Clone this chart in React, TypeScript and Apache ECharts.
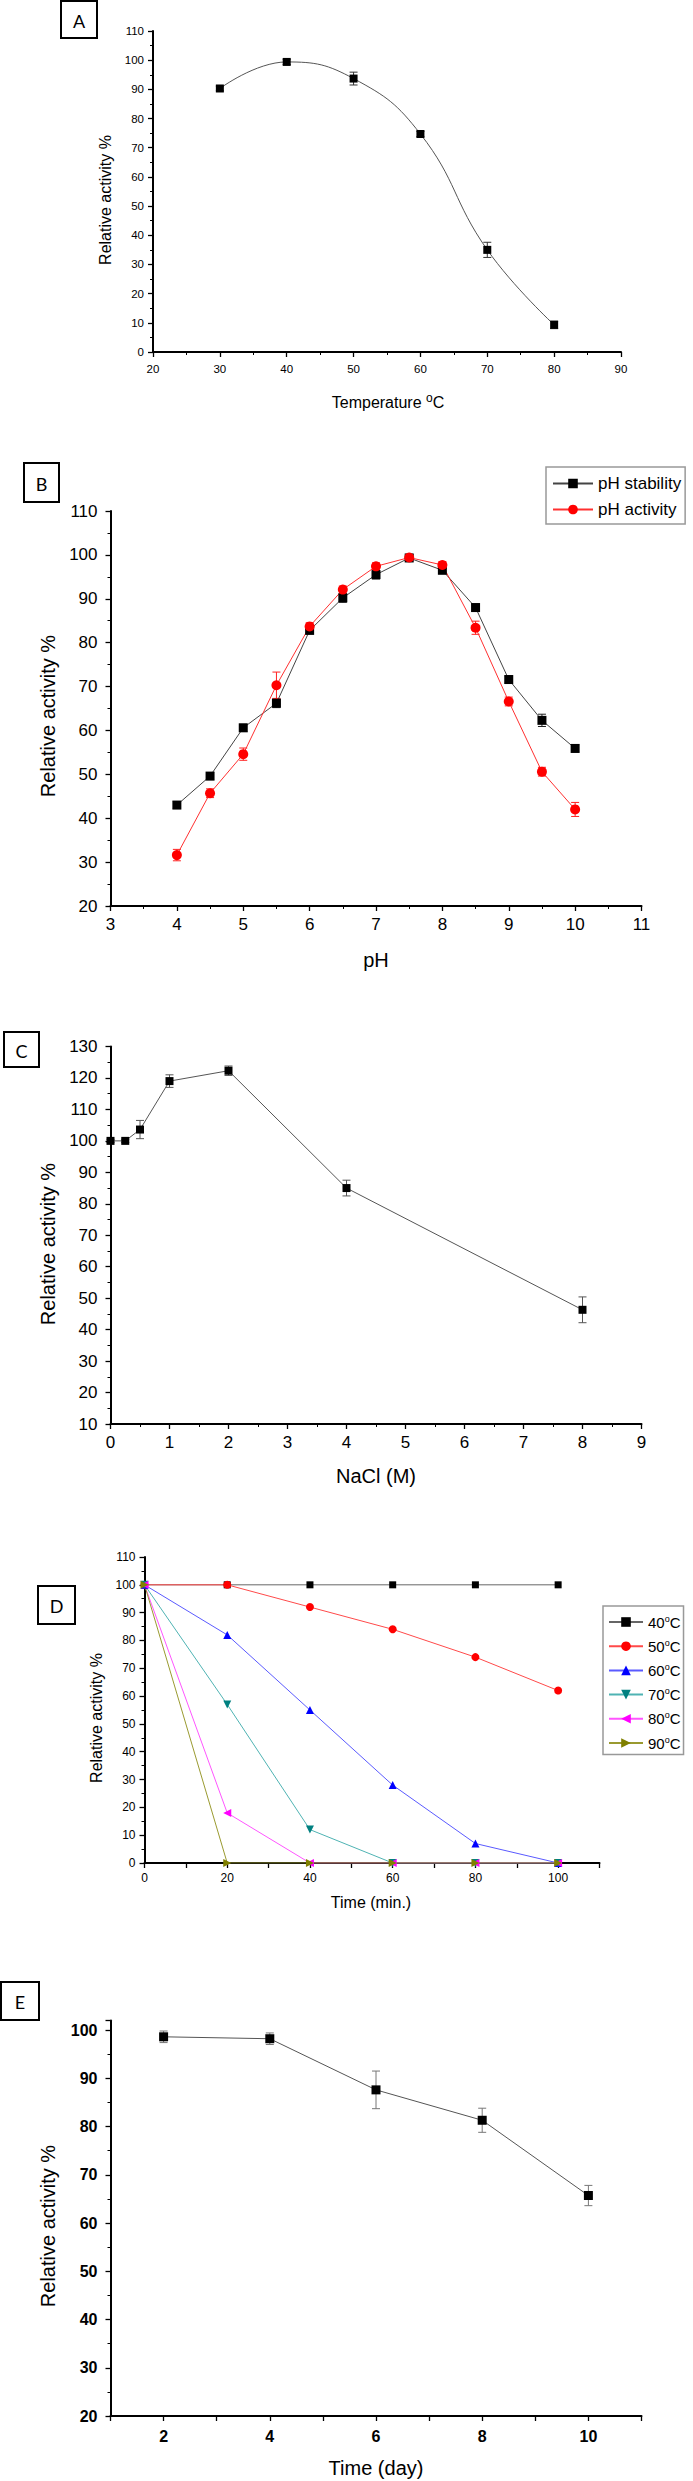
import React, { useEffect, useRef } from "react";
import * as echarts from "echarts";

const FONT = '"Liberation Sans", Arial, Helvetica, sans-serif';
const LETTER_FONT = 'Lato, "Open Sans", sans-serif';

// ---------- Panel A: effect of temperature ----------
const tempC = [30, 40, 50, 60, 70, 80];
const tempActivity = [90.3, 99.4, 93.7, 74.7, 35.0, 9.3];
const tempErr = [0.8, 0.9, 2.2, 0.9, 2.6, 1.3];
const axisAX = [20, 90, 10];
const axisAY = [0, 110, 10];

// ---------- Panel B: effect of pH ----------
const pH = [4, 4.5, 5, 5.5, 6, 6.5, 7, 7.5, 8, 8.5, 9, 9.5, 10];
const pHStability = [43.0, 49.6, 60.6, 66.2, 82.8, 90.2, 95.5, 99.3, 96.5, 88.0, 71.6, 62.3, 55.9];
const pHStabilityErr = [0.8, 0.8, 0.8, 1.0, 0.8, 1.0, 1.0, 0.8, 0.8, 0.8, 0.8, 1.4, 0.8];
const pHActivity = [31.6, 45.7, 54.6, 70.3, 83.7, 92.1, 97.4, 99.4, 97.7, 83.4, 66.6, 50.6, 42.0];
const pHActivityErr = [1.3, 1.0, 1.4, 3.0, 0.8, 0.8, 0.8, 0.6, 0.8, 1.5, 1.0, 1.0, 1.6];
const pHSeriesNames = ["pH stability", "pH activity"];
const axisBX = [3, 11, 1];
const axisBY = [20, 110, 10];

// ---------- Panel C: effect of NaCl ----------
const nacl = [0, 0.25, 0.5, 1, 2, 4, 8];
const naclActivity = [100, 100, 103.6, 119.0, 122.3, 85.0, 46.3];
const naclErr = [0.5, 0.5, 2.9, 2.0, 1.5, 2.5, 4.1];
const axisCX = [0, 9, 1];
const axisCY = [10, 130, 10];

// ---------- Panel D: thermal stability ----------
const timeMin = [0, 20, 40, 60, 80, 100];
const stabTemps = ["40", "50", "60", "70", "80", "90"];
const stab40 = [100, 100, 100, 100, 100, 100];
const stab50 = [100, 100, 92, 84, 74, 62];
const stab60 = [100, 82, 55, 28, 7, 0];
const stab70 = [100, 57, 12, 0, 0, 0];
const stab80 = [100, 18, 0, 0, 0, 0];
const stab90 = [100, 0, 0, 0, 0, 0];
const stabValues = [stab40, stab50, stab60, stab70, stab80, stab90];
const axisDX = [0, 110, 10];
const axisDY = [0, 110, 10];

// ---------- Panel E: storage stability ----------
const days = [2, 4, 6, 8, 10];
const storage = [98.6, 98.2, 87.6, 81.3, 65.7];
const storageErr = [1.2, 1.2, 3.9, 2.5, 2.1];
const axisEX = [1, 11, 1];
const axisEY = [20, 102, 10];

const panelLetters = ["A", "B", "C", "D", "E"];
const yTitle = "Relative activity %";
const xTitles = ["Temperature ", "pH", "NaCl (M)", "Time (min.)", "Time (day)"];

// styles (kept apart from data)
const stabMarker = ["#000000", "#ff0000", "#0000ff", "#008080", "#ff00ff", "#808000"];
const stabLine = ["#666666", "#ff4a4a", "#5a5aff", "#4fb3b3", "#ff55ff", "#9a9a30"];
const stabSymbol = [
  "rect",
  "circle",
  "path://M5,0L10,9L0,9Z",
  "path://M0,0L10,0L5,9Z",
  "path://M10,0L10,10L1,5Z",
  "path://M0,0L0,10L9,5Z",
];

const grids = [
  { left: 153, top: 31, width: 468, height: 321 },
  { left: 110.5, top: 511, width: 531, height: 395 },
  { left: 110.5, top: 1046.5, width: 531, height: 377.5 },
  { left: 144.5, top: 1557, width: 455, height: 306 },
  { left: 110.5, top: 2020.4, width: 531, height: 395.6 },
];

function axis(
  gi: number,
  range: number[],
  fontSize: number,
  margin: number,
  extra: any = {}
) {
  return {
    type: "value",
    gridIndex: gi,
    min: range[0],
    max: range[1],
    interval: range[2],
    axisLine: { show: true, onZero: false, lineStyle: { color: "#000", width: 2 } },
    axisTick: { show: true, length: 5, lineStyle: { color: "#000", width: 1.3 } },
    splitLine: { show: false },
    axisLabel: {
      color: "#000",
      fontSize,
      fontFamily: FONT,
      fontWeight: extra.bold ? "bold" : "normal",
      margin,
      formatter: extra.formatter,
    },
    minorTick: extra.minor
      ? { show: true, splitNumber: 2, length: 3, lineStyle: { color: "#000", width: 1 } }
      : { show: false },
  };
}

function lineSeries(name: string, gi: number, xs: number[], ys: number[], o: any) {
  return {
    name,
    type: "line",
    xAxisIndex: gi,
    yAxisIndex: gi,
    z: 3,
    data: xs.map((x, i) => [x, ys[i]]),
    symbol: o.symbol,
    symbolSize: o.size,
    smooth: o.smooth || false,
    itemStyle: { color: o.color },
    lineStyle: { color: o.lineColor, width: 1 },
    emphasis: { disabled: true },
  };
}

function errorBars(gi: number, xs: number[], ys: number[], errs: number[], color: string, cap = 4) {
  return {
    type: "custom",
    xAxisIndex: gi,
    yAxisIndex: gi,
    z: 2,
    silent: true,
    data: xs.map((x, i) => [x, ys[i] - errs[i], ys[i] + errs[i]]),
    encode: { x: 0, y: [1, 2] },
    renderItem: (params: any, api: any) => {
      const x = api.value(0);
      const lo = api.coord([x, api.value(1)]);
      const hi = api.coord([x, api.value(2)]);
      const style = { stroke: color, lineWidth: 1 };
      return {
        type: "group",
        children: [
          { type: "line", shape: { x1: lo[0], y1: lo[1], x2: hi[0], y2: hi[1] }, style },
          { type: "line", shape: { x1: lo[0] - cap, y1: lo[1], x2: lo[0] + cap, y2: lo[1] }, style },
          { type: "line", shape: { x1: hi[0] - cap, y1: hi[1], x2: hi[0] + cap, y2: hi[1] }, style },
        ],
      };
    },
  };
}

function textEl(text: string, x: number, y: number, size: number, rotate = false, font = FONT) {
  return {
    type: "text",
    x,
    y,
    rotation: rotate ? Math.PI / 2 : 0,
    z: 10,
    style: {
      text,
      font: `${size}px ${font}`,
      fill: "#000",
      align: "center",
      verticalAlign: "middle",
      textAlign: "center",
      textVerticalAlign: "middle",
    },
  };
}

function letterBox(letter: string, x: number, y: number, w: number, h: number) {
  return [
    {
      type: "rect",
      shape: { x, y, width: w, height: h },
      style: { fill: "#fff", stroke: "#000", lineWidth: 2 },
      z: 10,
    },
    textEl(letter, x + w / 2, y + h / 2 + 1, 18, false, LETTER_FONT),
  ];
}

export default function App() {
  const ref = useRef<HTMLDivElement>(null);

  useEffect(() => {
    if (!ref.current) return;
    const chart = echarts.init(ref.current, null, { renderer: "svg" });

    const series: any[] = [];
    // A
    series.push(errorBars(0, tempC, tempActivity, tempErr, "#333"));
    series.push(
      lineSeries("Temperature", 0, tempC, tempActivity, {
        symbol: "rect",
        size: 8,
        color: "#000",
        lineColor: "#555",
        smooth: 0.45,
      })
    );
    // B
    series.push(errorBars(1, pH, pHStability, pHStabilityErr, "#222"));
    series.push(errorBars(1, pH, pHActivity, pHActivityErr, "#ff2020"));
    series.push(
      lineSeries(pHSeriesNames[0], 1, pH, pHStability, {
        symbol: "rect",
        size: 9,
        color: "#000",
        lineColor: "#444",
      })
    );
    series.push(
      lineSeries(pHSeriesNames[1], 1, pH, pHActivity, {
        symbol: "circle",
        size: 10,
        color: "#ff0000",
        lineColor: "#ff3030",
      })
    );
    // C
    series.push(errorBars(2, nacl, naclActivity, naclErr, "#555"));
    series.push(
      lineSeries("NaCl", 2, nacl, naclActivity, {
        symbol: "rect",
        size: 8,
        color: "#000",
        lineColor: "#555",
      })
    );
    // D
    stabTemps.forEach((t, i) => {
      series.push(
        lineSeries(`${t}°C`, 3, timeMin, stabValues[i], {
          symbol: stabSymbol[i],
          size: i === 0 ? 7 : 8,
          color: stabMarker[i],
          lineColor: stabLine[i],
        })
      );
    });
    // E
    series.push(errorBars(4, days, storage, storageErr, "#777"));
    series.push(
      lineSeries("Storage", 4, days, storage, {
        symbol: "rect",
        size: 9,
        color: "#000",
        lineColor: "#555",
      })
    );

    const graphic: any[] = [
      ...letterBox(panelLetters[0], 61, 1, 36, 37),
      ...letterBox(panelLetters[1], 24, 463, 35, 39),
      ...letterBox(panelLetters[2], 4, 1032, 35, 35),
      ...letterBox(panelLetters[3], 38, 1586, 37, 38),
      ...letterBox(panelLetters[4], 1, 1982, 38, 38),
      textEl(yTitle, 105, 200, 16, true),
      textEl(yTitle, 48, 716, 20, true),
      textEl(yTitle, 48, 1244, 20, true),
      textEl(yTitle, 96, 1718, 16, true),
      textEl(yTitle, 48, 2226, 20, true),
      {
        type: "text",
        x: 388,
        y: 402,
        z: 10,
        style: {
          text: `{a|${xTitles[0]}}{s|o}{a|C}`,
          align: "center",
          verticalAlign: "middle",
          textAlign: "center",
          textVerticalAlign: "middle",
          rich: {
            a: { fontSize: 16, fontFamily: FONT, fill: "#000", color: "#000", lineHeight: 20 },
            s: {
              fontSize: 12,
              fontFamily: FONT,
              fill: "#000",
              color: "#000",
              lineHeight: 8,
              verticalAlign: "top",
            },
          },
        },
      },
      textEl(xTitles[1], 376, 960, 20),
      textEl(xTitles[2], 376, 1476, 20),
      textEl(xTitles[3], 371, 1902, 16),
      textEl(xTitles[4], 376, 2468, 20),
    ];

    const option: any = {
      animation: false,
      backgroundColor: "#ffffff",
      grid: grids.map((g) => ({ ...g, containLabel: false, outerBoundsMode: "none" })),
      xAxis: [
        axis(0, axisAX, 11.5, 11, { minor: true }),
        axis(1, axisBX, 17, 10, { minor: true }),
        axis(2, axisCX, 17, 10, { minor: true }),
        axis(3, axisDX, 12, 9, {
          formatter: (v: number) => (v % 20 === 0 && v <= 100 ? String(v) : ""),
        }),
        axis(4, axisEX, 16, 12, {
          bold: true,
          formatter: (v: number) => (v % 2 === 0 ? String(v) : ""),
        }),
      ],
      yAxis: [
        axis(0, axisAY, 11.5, 9, { minor: true }),
        axis(1, axisBY, 17, 13, { minor: true }),
        axis(2, axisCY, 17, 13, { minor: true }),
        axis(3, axisDY, 12, 9, { minor: true }),
        axis(4, axisEY, 16, 13, {
          bold: true,
          minor: true,
          formatter: (v: number) => (v <= 100 ? String(v) : ""),
        }),
      ],
      legend: [
        {
          data: pHSeriesNames,
          orient: "vertical",
          left: 546,
          top: 467,
          padding: [8, 4, 6, 6],
          itemWidth: 40,
          itemHeight: 12,
          itemGap: 9,
          borderColor: "#999",
          borderWidth: 1.5,
          backgroundColor: "#fff",
          selectedMode: false,
          textStyle: { fontSize: 17, fontFamily: FONT, color: "#000" },
        },
        {
          data: stabTemps.map((t) => `${t}°C`),
          orient: "vertical",
          left: 603,
          top: 1606,
          padding: [8, 3, 4, 5],
          itemWidth: 34,
          itemHeight: 12,
          itemGap: 8.7,
          borderColor: "#999",
          borderWidth: 1.5,
          backgroundColor: "#fff",
          selectedMode: false,
          formatter: (name: string) => `{n|${name.replace("°C", "")}}{s|o}{n|C}`,
          textStyle: {
            fontFamily: FONT,
            color: "#000",
            rich: {
              n: { fontSize: 15, fontFamily: FONT, color: "#000", lineHeight: 16 },
              s: {
                fontSize: 9,
                fontFamily: FONT,
                color: "#000",
                lineHeight: 7,
                verticalAlign: "top",
              },
            },
          },
        },
      ],
      graphic,
      series,
    };

    chart.setOption(option);
    return () => chart.dispose();
  }, []);

  return (
    <div
      ref={ref}
      style={{ position: "absolute", left: 0, top: 0, width: 693, height: 2481, background: "#fff" }}
    />
  );
}
